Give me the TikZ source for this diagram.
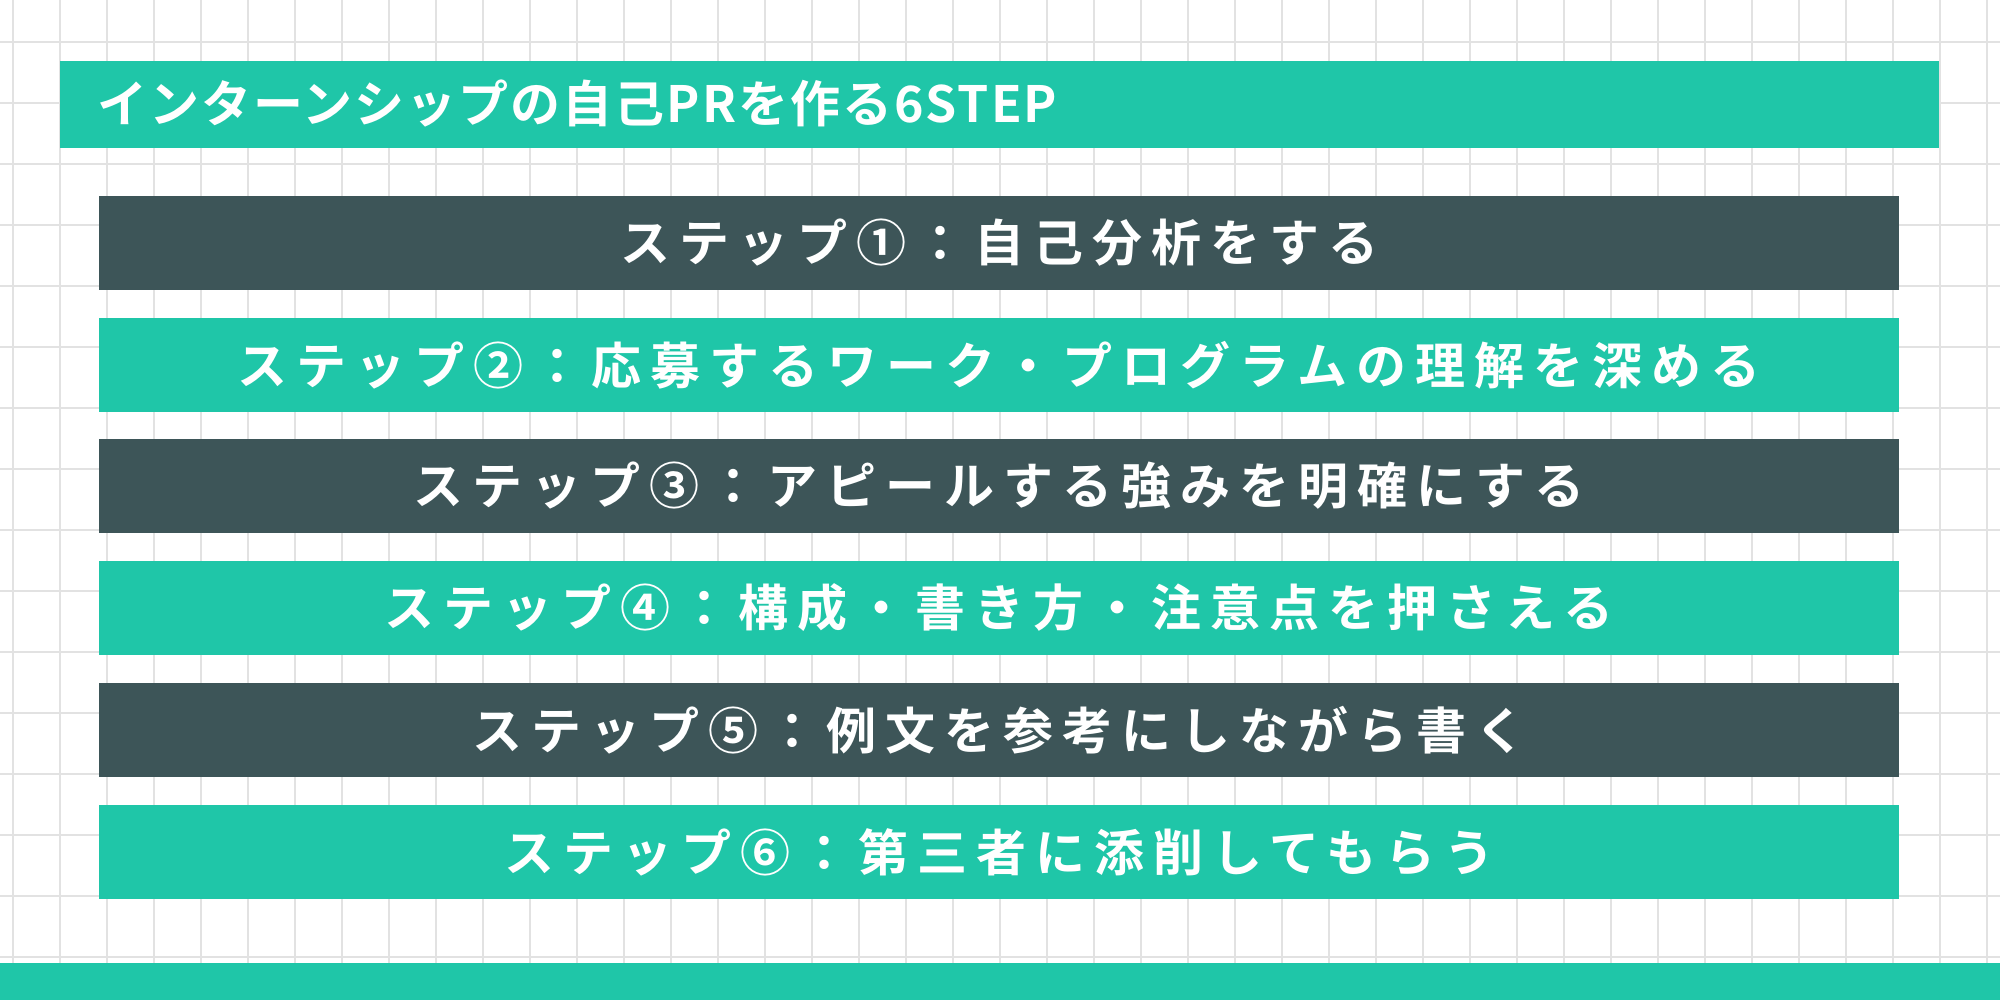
\documentclass[tikz,border=0pt]{standalone}
\usepackage{fontspec}
\newfontfamily\jp[LetterSpace=18]{Noto Sans CJK JP Bold}
\newfontfamily\jpt[LetterSpace=4]{Noto Sans CJK JP Bold}
\definecolor{teal}{HTML}{1FC6A8}
\definecolor{dark}{HTML}{3D5558}
\definecolor{grid}{HTML}{E2E2E2}
\begin{document}
\begin{tikzpicture}[x=0.5pt,y=-0.5pt,
  bar/.style={minimum width=900pt,minimum height=47pt,inner sep=0pt,text=white,font=\jp\fontsize{25}{30}\selectfont},
  tbar/.style={fill=teal},tdark/.style={fill=dark}]
\useasboundingbox (0,0) rectangle (2000,1000);
\fill[white] (0,0) rectangle (2000,1000);
\foreach \x in {13,60,...,2000} \draw[grid,line width=1pt] (\x,0) -- (\x,1000);
\foreach \y in {42,103,...,1000} \draw[grid,line width=1pt] (0,\y) -- (2000,\y);
\node[fill=teal,minimum width=939.5pt,minimum height=43.5pt,inner sep=0pt,anchor=north west] (title) at (60,61) {};
\node[anchor=west,text=white,font=\jpt\fontsize{25}{30}\selectfont,inner sep=0pt] (tt) at (97,104) {インターンシップの自己PRを作る6STEP};
\node[bar,tdark] (s1) at (999,243) {ステップ①：自己分析をする};
\node[bar,tbar] (s2) at (999,365) {ステップ②：応募するワーク・プログラムの理解を深める};
\node[bar,tdark] (s3) at (999,486) {ステップ③：アピールする強みを明確にする};
\node[bar,tbar] (s4) at (999,608) {ステップ④：構成・書き方・注意点を押さえる};
\node[bar,tdark] (s5) at (999,730) {ステップ⑤：例文を参考にしながら書く};
\node[bar,tbar] (s6) at (999,852) {ステップ⑥：第三者に添削してもらう};
\fill[teal] (0,963) rectangle (2000,1000);
\end{tikzpicture}
\end{document}
